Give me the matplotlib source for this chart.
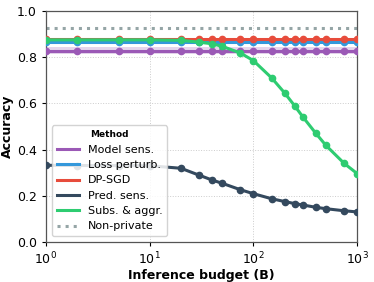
import matplotlib
matplotlib.use("Agg")
import matplotlib.pyplot as plt
import numpy as np

budgets = [1, 2, 5, 10, 20, 30, 40, 50, 75, 100, 150, 200, 250, 300, 400, 500, 750, 1000]

model_sens = [0.828] * len(budgets)
model_sens_err = 0.014
loss_perturb = [0.866] * len(budgets)
dp_sgd = [0.877] * len(budgets)
pred_sens = [0.332, 0.331, 0.331, 0.330, 0.319, 0.289, 0.268, 0.254, 0.226, 0.209,
             0.187, 0.175, 0.166, 0.160, 0.150, 0.144, 0.135, 0.130]
subs_aggr = [0.875, 0.875, 0.875, 0.875, 0.873, 0.865, 0.858, 0.847, 0.818, 0.785,
             0.710, 0.645, 0.589, 0.541, 0.470, 0.418, 0.340, 0.296]
non_private = 0.925

COLORS = {
    "Model sens.":    "#9b59b6",
    "Loss perturb.":  "#3498db",
    "DP-SGD":         "#e74c3c",
    "Pred. sens.":    "#34495e",
    "Subs. & aggr.":  "#2ecc71",
    "Non-private":    "#95a5a6",
}

fig = plt.figure(figsize=(3.74, 2.82), dpi=100)
ax = fig.add_axes([0.123, 0.142, 0.832, 0.819])

series = [
    ("Model sens.", model_sens),
    ("Loss perturb.", loss_perturb),
    ("DP-SGD", dp_sgd),
    ("Pred. sens.", pred_sens),
    ("Subs. & aggr.", subs_aggr),
]
ms = np.array(model_sens)
ax.fill_between(budgets, ms - model_sens_err, ms + model_sens_err,
                color=COLORS["Model sens."], alpha=0.25, linewidth=0, zorder=2)
for name, vals in series:
    ax.plot(budgets, vals, color=COLORS[name], linewidth=2.2, marker="o",
            markersize=4.5, label=name, zorder=3)
ax.axhline(non_private, color=COLORS["Non-private"], linestyle=":", linewidth=2.2,
           label="Non-private", zorder=2)

ax.set_xscale("log")
ax.set_xlim(1, 1000)
ax.set_ylim(0, 1.0)
ax.set_yticks([0.0, 0.2, 0.4, 0.6, 0.8, 1.0])
ax.grid(True, which="major", color="#cccccc", linestyle=":", linewidth=0.7)
ax.tick_params(labelsize=9, length=3, width=0.8, which="major")
ax.tick_params(which="minor", length=0)
for s in ax.spines.values():
    s.set_color("#555555")
    s.set_linewidth(0.9)

ax.set_xlabel("Inference budget (B)", fontsize=9, fontweight="bold", labelpad=1)
ax.set_ylabel("Accuracy", fontsize=9, fontweight="bold", labelpad=2)

handles, labels = ax.get_legend_handles_labels()
leg = ax.legend(handles, labels, title="Method", loc="lower left",
                fontsize=8, title_fontsize=6.5, framealpha=0.85,
                handlelength=2.0, borderpad=0.45, labelspacing=0.48,
                bbox_to_anchor=(0.0, 0.0))
leg.get_title().set_fontweight("bold")
for l in leg.get_lines():
    l.set_marker("")

fig.savefig("out.png", dpi=100)
